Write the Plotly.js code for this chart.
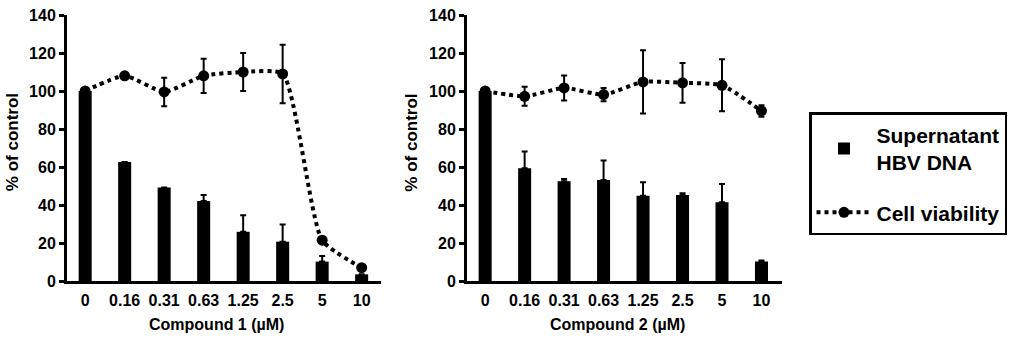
<!DOCTYPE html>
<html>
<head>
<meta charset="utf-8">
<script src="https://cdn.plot.ly/plotly-3.0.1.min.js"></script>
<style>html,body{margin:0;padding:0;background:#fff;}#chart{width:1024px;height:354px;}</style>
</head>
<body>
<div id="chart"></div>
<script>
// Categories (concentration, µM)
const concentrations = ["0", "0.16", "0.31", "0.63", "1.25", "2.5", "5", "10"];

// Compound 1
const c1DNA = [100, 62.6, 49.2, 42.1, 25.9, 20.7, 10.2, 3.5];
const c1DNAErr = [0, 0, 0, 3.2, 8.7, 9.1, 3, 0];
const c1Viability = [100, 108, 99.5, 108, 110, 109, 21.5, 7];
const c1ViabilityErr = [0, 0, 7.5, 9, 10, 15.4, 0, 0];

// Compound 2
const c2DNA = [100, 59.4, 52.5, 53.2, 44.9, 45.3, 41.5, 10.3];
const c2DNAErr = [0, 8.8, 1.2, 10.2, 7.1, 0.9, 9.5, 0.5];
const c2Viability = [100, 97.2, 101.6, 98.1, 104.8, 104.3, 103, 89.5];
const c2ViabilityErr = [0, 5, 6.6, 3.5, 16.7, 10.5, 13.7, 3];

const seriesNames = ["Supernatant<br>HBV DNA", "Cell viability"];
const xTitles = ["Compound 1 (µM)", "Compound 2 (µM)"];
const yTitle = "% of control";

const FONT = "Liberation Sans, Arial, sans-serif";

function barTrace(y, err, xa, ya, show) {
  return {
    type: "bar", x: concentrations, y: y, xaxis: xa, yaxis: ya,
    name: seriesNames[0], legendgroup: "dna", showlegend: show,
    marker: {color: "#000", line: {width: 0}},
    error_y: {type: "data", symmetric: false, array: err, arrayminus: err.map(() => 0),
              color: "#000", thickness: 2, width: 3}
  };
}
function lineTrace(y, err, xa, ya, show) {
  return {
    type: "scatter", mode: "lines+markers", x: concentrations, y: y, xaxis: xa, yaxis: ya,
    name: seriesNames[1], legendgroup: "via", showlegend: show,
    line: {color: "#000", width: 4, dash: "4px,4px", shape: "spline", smoothing: 0.55},
    marker: {color: "#000", size: 11, symbol: "circle"},
    error_y: {type: "data", array: err, color: "#000", thickness: 2, width: 3}
  };
}

const data = [
  barTrace(c1DNA, c1DNAErr, "x", "y", true),
  lineTrace(c1Viability, c1ViabilityErr, "x", "y", true),
  barTrace(c2DNA, c2DNAErr, "x2", "y2", false),
  lineTrace(c2Viability, c2ViabilityErr, "x2", "y2", false)
];

const xCommon = {
  type: "category", showgrid: false, zeroline: false,
  showline: true, linecolor: "#000", linewidth: 3,
  ticks: "", ticklabelstandoff: 3,
  tickfont: {family: FONT, size: 16, color: "#000", weight: "bold"},
  fixedrange: true
};
const yCommon = {
  range: [0, 140], dtick: 20, showgrid: false, zeroline: false,
  showline: true, linecolor: "#000", linewidth: 3,
  ticks: "outside", ticklen: 5, tickwidth: 3, tickcolor: "#000",
  tickfont: {family: FONT, size: 16, color: "#000", weight: "bold"},
  fixedrange: true
};

const layout = {
  width: 1024, height: 354,
  margin: {l: 0, r: 0, t: 15, b: 73},
  paper_bgcolor: "#fff", plot_bgcolor: "#fff",
  bargap: 0.67,
  showlegend: true,
  font: {family: FONT, color: "#000"},
  xaxis: Object.assign({}, xCommon, {domain: [67/1024, 381/1024], range: [-0.46, 7.49], anchor: "y"}),
  yaxis: Object.assign({}, yCommon, {anchor: "x"}),
  xaxis2: Object.assign({}, xCommon, {domain: [467/1024, 782/1024], range: [-0.46, 7.52], anchor: "y2"}),
  yaxis2: Object.assign({}, yCommon, {anchor: "x2"}),
  legend: {
    x: 809/1024, y: 0.635, xanchor: "left", yanchor: "top",
    bordercolor: "#000", borderwidth: 2.5, bgcolor: "#fff",
    font: {family: FONT, size: 21, color: "#000", weight: "bold"},
    traceorder: "grouped", tracegroupgap: 20, itemwidth: 55
  },
  annotations: [
    {text: xTitles[0], xref: "paper", yref: "paper", x: 216/1024, y: -0.165, showarrow: false,
     xanchor: "center", yanchor: "middle", font: {family: FONT, size: 16, color: "#000", weight: "bold"}},
    {text: xTitles[1], xref: "paper", yref: "paper", x: 617/1024, y: -0.165, showarrow: false,
     xanchor: "center", yanchor: "middle", font: {family: FONT, size: 16, color: "#000", weight: "bold"}},
    {text: yTitle, xref: "paper", yref: "paper", x: 12.5/1024, y: 0.52, showarrow: false, textangle: -90,
     xanchor: "center", yanchor: "middle", font: {family: FONT, size: 17, color: "#000", weight: "bold"}},
    {text: yTitle, xref: "paper", yref: "paper", x: 412/1024, y: 0.52, showarrow: false, textangle: -90,
     xanchor: "center", yanchor: "middle", font: {family: FONT, size: 17, color: "#000", weight: "bold"}}
  ]
};

Plotly.newPlot("chart", data, layout, {displayModeBar: false, staticPlot: true});
</script>
</body>
</html>
